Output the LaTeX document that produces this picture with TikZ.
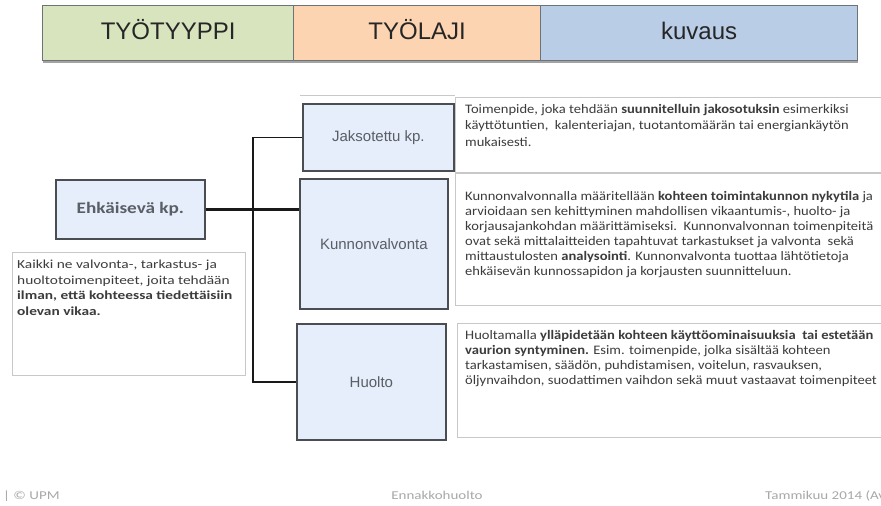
\documentclass[tikz,border=0pt]{standalone}
\usepackage{fontspec}
\setmainfont{Carlito}
\newfontfamily\arial{Liberation Sans}
\newfontfamily\wide[FakeStretch=1.12]{Carlito}
\newfontfamily\wider[FakeStretch=1.25]{Carlito}
\newfontfamily\ehkfont[FakeStretch=1.2]{Carlito}
\usetikzlibrary{shadows}
\definecolor{hgreen}{HTML}{D7E4BD}
\definecolor{horange}{HTML}{FCD4B2}
\definecolor{hblue}{HTML}{BACDE6}
\definecolor{hborder}{HTML}{6E7378}
\definecolor{boxfill}{HTML}{E5EEFA}
\definecolor{boxborder}{HTML}{4A4D52}
\definecolor{labtext}{HTML}{5A5E66}
\definecolor{descline}{HTML}{C8C8C8}
\definecolor{desctext}{HTML}{3C3C3C}
\definecolor{foot}{HTML}{A8A8A8}
\tikzset{
  hdr/.style={draw=hborder, line width=1.2pt, anchor=north west, minimum height=55pt,
    inner sep=0pt, text=black!85, font=\arial\fontsize{24}{28}\selectfont,
    text height=17pt, text depth=5pt,
    drop shadow={shadow xshift=0.8pt, shadow yshift=-2.5pt, fill=black!45, opacity=0.8}},
  lab/.style={draw=boxborder, line width=1.7pt, fill=boxfill, anchor=north west, inner sep=0pt,
    text=labtext, font=\arial\fontsize{15}{18}\selectfont,
    drop shadow={shadow xshift=0.8pt, shadow yshift=-0.8pt, fill=black!35, opacity=0.6}},
  descbox/.style={draw=descline, line width=0.7pt, fill=white, anchor=north west, inner sep=0pt},
  dtext/.style={anchor=north west, align=left, inner sep=0pt, text=desctext},
  conn/.style={draw=black!90, line width=1.5pt},
  footer/.style={text=foot, font=\wider\fontsize{12}{14}\selectfont, inner sep=0pt}
}
\begin{document}
\begin{tikzpicture}[x=1pt,y=-1pt]
\useasboundingbox (0,0) rectangle (881,506);
\clip (0,0) rectangle (881,506);
\fill[white] (0,0) rectangle (881,506);

% header
\node[hdr, fill=hgreen, minimum width=251pt] (h1) at (42,5) {TYÖTYYPPI};
\node[hdr, fill=horange, minimum width=247pt] (h2) at (293,5) {TYÖLAJI};
\node[hdr, fill=hblue, minimum width=317pt] (h3) at (540,5) {kuvaus};

% description boxes
\draw[descline, line width=0.7pt] (300,95) -- (455,95);
\node[descbox, minimum width=430pt, minimum height=75pt] (d1) at (455,97) {};
\node[descbox, minimum width=430pt, minimum height=132pt] (d2) at (455,173) {};
\node[descbox, minimum width=430pt, minimum height=114pt] (d3) at (457,323) {};

\node[dtext, font=\wide\fontsize{13}{16.5}\selectfont] (t1) at (465,104)
{Toimenpide, joka tehdään \textbf{suunnitelluin jakosotuksin} esimerkiksi\\
käyttötuntien,\ \ kalenteriajan, tuotantomäärän tai energiankäytön\\
mukaisesti.};
\node[dtext, font=\wide\fontsize{13}{15}\selectfont] (t2) at (465,191)
{Kunnonvalvonnalla määritellään \textbf{kohteen toimintakunnon nykytila} ja\\
arvioidaan sen kehittyminen mahdollisen vikaantumis-, huolto- ja\\
korjausajankohdan määrittämiseksi.\ \ Kunnonvalvonnan toimenpiteitä\\
ovat sekä mittalaitteiden tapahtuvat tarkastukset ja valvonta\ \ sekä\\
mittaustulosten \textbf{analysointi}. Kunnonvalvonta tuottaa lähtötietoja\\
ehkäisevän kunnossapidon ja korjausten suunnitteluun.};
\node[dtext, font=\wide\fontsize{13}{15.2}\selectfont] (t3) at (465,330)
{Huoltamalla \textbf{ylläpidetään kohteen käyttöominaisuuksia\ \ tai estetään}\\
\textbf{vaurion syntyminen.} Esim. toimenpide, jolka sisältää kohteen\\
tarkastamisen, säädön, puhdistamisen, voitelun, rasvauksen,\\
öljynvaihdon, suodattimen vaihdon sekä muut vastaavat toimenpiteet};

% left side
\node[descbox, minimum width=233pt, minimum height=123pt] (lbox) at (12,252) {};
\node[dtext, font=\wider\fontsize{12.3}{15.5}\selectfont] (lt) at (17,260)
{Kaikki ne valvonta-, tarkastus- ja\\
huoltotoimenpiteet, joita tehdään\\
\textbf{ilman, että kohteessa tiedettäisiin}\\
\textbf{olevan vikaa.}};

\node[lab, minimum width=149pt, minimum height=59pt, font=\ehkfont\bfseries\fontsize{16}{18}\selectfont] (ehk) at (55,179) {Ehkäisevä kp.};
\node[lab, minimum width=151pt, minimum height=67pt] (jak) at (302,103) {Jaksotettu kp.};
\node[lab, minimum width=148pt, minimum height=130pt] (kun) at (299,178) {Kunnonvalvonta};
\node[lab, minimum width=149pt, minimum height=116pt] (huo) at (296,323) {Huolto};

% connectors
\coordinate (jtop) at (253,0);
\draw[conn, line width=2.8pt] (ehk.east) -- (ehk.east -| kun.west);
\draw[conn] (jak.west) -| (jtop |- huo.west) -- (huo.west);

% footer
\node[footer, anchor=base west] (f1) at (3,499) {| © UPM};
\node[footer, anchor=base] (f2) at (437,499) {Ennakkohuolto};
\node[footer, anchor=base west] (f3) at (765,499) {Tammikuu 2014 (Av};
\end{tikzpicture}
\end{document}
